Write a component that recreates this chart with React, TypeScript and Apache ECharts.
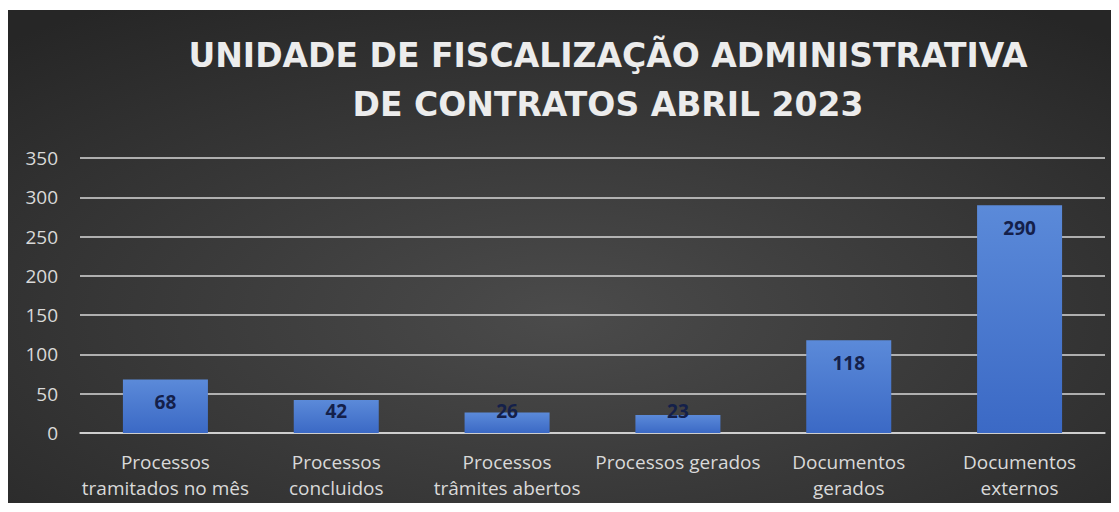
import React, { useEffect, useRef } from "react";
import * as echarts from "echarts";

const titleLines = ["UNIDADE DE FISCALIZAÇÃO ADMINISTRATIVA", "DE CONTRATOS ABRIL 2023"];
const categories = [
  "Processos\ntramitados no mês",
  "Processos\nconcluidos",
  "Processos\ntrâmites abertos",
  "Processos gerados",
  "Documentos\ngerados",
  "Documentos\nexternos",
];
const values = [68, 42, 26, 23, 118, 290];
const yMin = 0;
const yMax = 350;
const yStep = 50;

export default function App() {
  const ref = useRef<HTMLDivElement>(null);
  useEffect(() => {
    if (!ref.current) return;
    const chart = echarts.init(ref.current, undefined, { renderer: "svg" });
    const font = "'Open Sans', 'Noto Sans', sans-serif";
    chart.setOption({
      animation: false,
      backgroundColor: {
        type: "radial",
        x: 0.5,
        y: 0.62,
        r: 0.75,
        colorStops: [
          { offset: 0, color: "#4b4b4b" },
          { offset: 1, color: "#262626" },
        ],
      },
      title: {
        text: titleLines.join("\n"),
        left: 595,
        top: 16,
        textAlign: "center",
        textStyle: {
          color: "#ececec",
          fontSize: 33,
          fontWeight: "bold",
          fontFamily: "'DejaVu Sans', sans-serif",
          lineHeight: 49,
        },
      },
      grid: { left: 72, right: 14, top: 148, bottom: 70 },
      xAxis: {
        type: "category",
        data: categories,
        axisLine: { show: true, lineStyle: { color: "#d9d9d9", width: 1.5 } },
        axisTick: { show: false },
        axisLabel: {
          color: "#d9d9d9",
          fontSize: 19,
          fontFamily: font,
          lineHeight: 26,
          margin: 16,
          interval: 0,
        },
      },
      yAxis: {
        type: "value",
        min: yMin,
        max: yMax,
        interval: yStep,
        axisLine: { show: false },
        axisTick: { show: false },
        axisLabel: { color: "#d9d9d9", fontSize: 19, fontFamily: font, margin: 22 },
        splitLine: { lineStyle: { color: "#d9d9d9", width: 1.5 } },
      },
      series: [
        {
          type: "bar",
          barWidth: 85,
          data: values.map((v) => ({
            value: v,
            label: {
              position: v < 50 ? "insideBottom" : "insideTop",
              distance: 13,
            },
          })),
          itemStyle: {
            color: {
              type: "linear",
              x: 0,
              y: 0,
              x2: 0,
              y2: 1,
              colorStops: [
                { offset: 0, color: "#5b8ad9" },
                { offset: 1, color: "#3b69c5" },
              ],
            },
          },
          label: {
            show: true,
            color: "#14204a",
            fontSize: 19,
            fontWeight: "bold",
            fontFamily: font,
          },
        },
      ],
    });
    return () => chart.dispose();
  }, []);
  return (
    <div style={{ paddingTop: 2 }}>
      <div ref={ref} style={{ width: 1111, height: 493 }} />
    </div>
  );
}
